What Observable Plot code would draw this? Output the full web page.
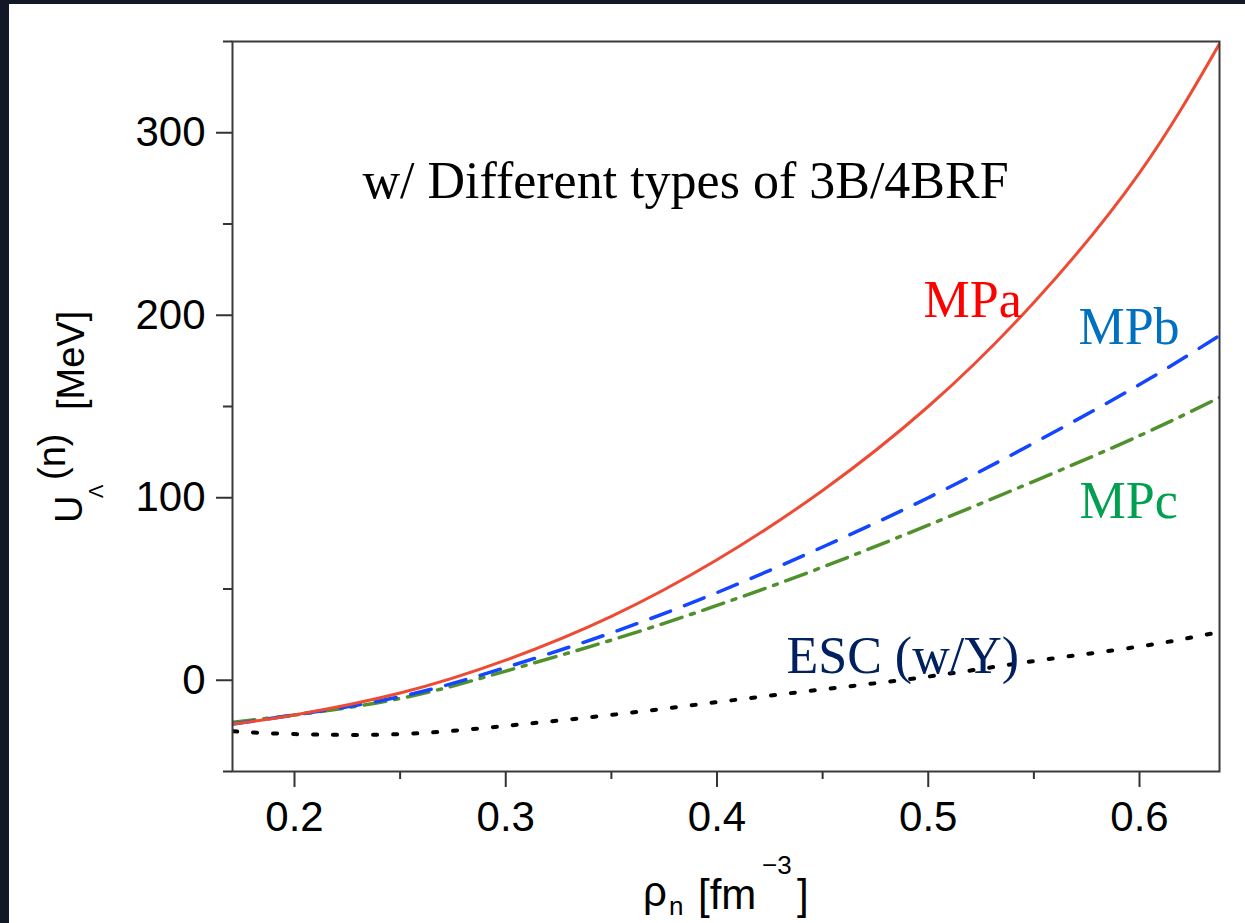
<!DOCTYPE html>
<html><head><meta charset="utf-8">
<script src="https://cdn.jsdelivr.net/npm/d3@7"></script>
<script src="https://cdn.jsdelivr.net/npm/@observablehq/plot@0.6"></script>
<style>
html,body{margin:0;padding:0;background:#121825;width:1245px;height:923px;overflow:hidden;}
#chart{position:absolute;left:9px;top:4px;width:1236px;height:919px;background:#fff;}
</style></head><body><div id="chart"></div>
<script>
// neutron density rho_n [fm^-3]
const density = [0.171, 0.2, 0.25, 0.3, 0.35, 0.4, 0.45, 0.5, 0.55, 0.6, 0.638];
// U_Lambda^(n) [MeV]
const mpa = [-24, -19, -7, 11, 35, 66, 104, 150, 207, 278, 349];
const mpb = [-24, -19, -9, 7, 26, 48, 73, 100, 130, 162, 189];
const mpc = [-23, -19, -10, 5, 22, 41, 62, 85, 109, 134, 155];
const esc = [-28, -29.5, -29.5, -25, -19, -12, -5, 2, 10.5, 18.5, 26.5];

const xTicks = [0.2, 0.3, 0.4, 0.5, 0.6];
const xMinor = [0.25, 0.35, 0.45, 0.55];
const yTicks = [0, 100, 200, 300];
const yMinor = [-50, 50, 150, 250, 350];

const labelText = ["w/ Different types of 3B/4BRF", "MPa", "MPb", "MPc", "ESC (w/Y)"];
const labelX = [0.2322, 0.4978, 0.5711, 0.5716, 0.4329];
const labelY = [264.5, 198.8, 184.0, 88.8, 3.7];
const labelColor = ["#000000", "#ff0000", "#0070c0", "#00a050", "#002060"];

const pts = (ys) => density.map((x, i) => ({x, y: ys[i]}));
const labels = labelText.map((t, i) => ({t, x: labelX[i], y: labelY[i], c: labelColor[i]}));

const plot = Plot.plot({
  width: 1236, height: 919,
  marginLeft: 223, marginTop: 37, marginRight: 26, marginBottom: 152,
  style: {fontFamily: "'Liberation Sans', Arial, sans-serif", background: "#fff", color: "#000"},
  x: {domain: [0.17065, 0.63787], label: null},
  y: {domain: [-50, 350], label: null},
  marks: [
    Plot.line(pts(esc), {x: "x", y: "y", stroke: "#000", strokeWidth: 4, strokeDasharray: "4,16", curve: "natural", clip: true}),
    Plot.line(pts(mpc), {x: "x", y: "y", stroke: "#50912d", strokeWidth: 3.5, strokeDasharray: "22,9,4,9", curve: "natural", clip: true}),
    Plot.line(pts(mpb), {x: "x", y: "y", stroke: "#1446ff", strokeWidth: 3.5, strokeDasharray: "21,15", curve: "natural", clip: true}),
    Plot.line(pts(mpa), {x: "x", y: "y", stroke: "#ee4b35", strokeWidth: 3, curve: "natural", clip: true}),
    Plot.text(labels, {x: "x", y: "y", text: "t", fill: "c", textAnchor: "start", lineAnchor: "bottom",
      fontFamily: "'Liberation Serif', 'Times New Roman', serif", fontSize: 52}),
    Plot.axisX(xTicks, {tickSize: 16, tickPadding: 14, fontSize: 42, stroke: "#333", strokeWidth: 2,
      tickFormat: d => d.toFixed(1), label: null}),
    Plot.axisX(xMinor, {tickSize: 8, text: null, stroke: "#333", strokeWidth: 2, label: null}),
    Plot.axisY(yTicks, {tickSize: 16, tickPadding: 11, fontSize: 42, stroke: "#333", strokeWidth: 2, label: null}),
    Plot.axisY(yMinor, {tickSize: 9, text: null, stroke: "#333", strokeWidth: 2, label: null}),
    Plot.frame({stroke: "#3a3a3a", strokeWidth: 2})
  ]
});
document.getElementById("chart").appendChild(plot);

const svg = d3.select(plot);
const ff = "'Liberation Sans', Arial, sans-serif";
// y axis title: U_Λ^(n) [MeV]
const yt = svg.append("text").attr("transform", "translate(73,519) rotate(-90)")
  .attr("text-anchor", "start")
  .attr("font-family", ff).attr("font-size", 38).attr("fill", "#000");
yt.append("tspan").attr("x", 0).attr("y", 0).text("U");
yt.append("tspan").attr("x", 25).attr("y", 21).attr("font-size", 20).text("Λ");
yt.append("tspan").attr("x", 43).attr("y", -17).text("(n)");
yt.append("tspan").attr("x", 113).attr("y", 2).text("[MeV]");
// x axis title: ρ_n [fm^-3]
const xt = svg.append("text").attr("text-anchor", "start")
  .attr("font-family", ff).attr("font-size", 42).attr("fill", "#000");
xt.append("tspan").attr("x", 634).attr("y", 902).text("ρ");
xt.append("tspan").attr("x", 660).attr("y", 911).attr("font-size", 26).text("n");
xt.append("tspan").attr("x", 689).attr("y", 905).text("[fm");
xt.append("tspan").attr("x", 753).attr("y", 870).attr("font-size", 26).text("−3");
xt.append("tspan").attr("x", 788).attr("y", 905).text("]");
</script></body></html>
